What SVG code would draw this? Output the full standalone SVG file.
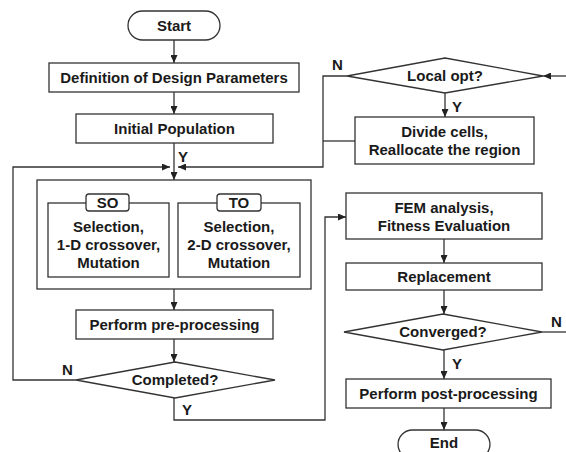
<svg xmlns="http://www.w3.org/2000/svg" width="566" height="452" viewBox="0 0 566 452">
<defs>
<marker id="ah" markerUnits="userSpaceOnUse" markerWidth="8" markerHeight="7" refX="8" refY="3.5" orient="auto">
<path d="M0,0 L8,3.5 L0,7 z" fill="#222"/>
</marker>
<style>
.n{fill:#fff;stroke:#333;stroke-width:1.3}
.t{font-family:"Liberation Sans",Arial,sans-serif;font-weight:bold;font-size:15px;fill:#1a1a1a;text-anchor:middle}
.l{font-family:"Liberation Sans",Arial,sans-serif;font-weight:bold;font-size:15px;fill:#1a1a1a}
.c{fill:none;stroke:#333;stroke-width:1.3}
.a{fill:none;stroke:#333;stroke-width:1.3;marker-end:url(#ah)}
</style>
</defs>
<rect width="566" height="452" fill="#fff"/>
<g id="connectors">
<line class="a" x1="174" y1="40" x2="174" y2="63"/>
<line class="a" x1="174" y1="92" x2="174" y2="114"/>
<line class="a" x1="174" y1="143" x2="174" y2="180"/>
<polyline class="a" points="76,380 13,380 13,167 170,167"/>
<polyline class="a" points="347,76 323,76 323,167 178,167"/>
<line class="c" x1="355" y1="141" x2="323" y2="141"/>
<line class="a" x1="566" y1="76" x2="543" y2="76"/>
<line class="a" x1="445" y1="93" x2="445" y2="117"/>
<line class="a" x1="174" y1="289" x2="174" y2="310"/>
<line class="a" x1="174" y1="339" x2="174" y2="362"/>
<polyline class="a" points="174,398 174,420 325,420 325,217 346,217"/>
<line class="a" x1="444" y1="239" x2="444" y2="263"/>
<line class="a" x1="444" y1="290" x2="444" y2="314"/>
<line class="c" x1="542" y1="332" x2="566" y2="332"/>
<line class="a" x1="444" y1="350" x2="444" y2="379"/>
<line class="a" x1="444" y1="408" x2="444" y2="430"/>
<text class="l" x="178" y="162">Y</text>
<text class="l" x="332" y="70">N</text>
<text class="l" x="452" y="112">Y</text>
<text class="l" x="62" y="375">N</text>
<text class="l" x="182" y="415">Y</text>
<text class="l" x="551" y="327">N</text>
<text class="l" x="452" y="369">Y</text>
</g>
<g id="start">
<rect class="n" x="128" y="11" width="92" height="29" rx="14.5"/>
<text class="t" x="174" y="31">Start</text>
</g>
<g id="definition">
<rect class="n" x="49" y="63" width="250" height="29"/>
<text class="t" x="174" y="83">Definition of Design Parameters</text>
</g>
<g id="initial">
<rect class="n" x="76" y="114" width="197" height="29"/>
<text class="t" x="174.5" y="134">Initial Population</text>
</g>
<g id="container">
<rect class="n" x="37" y="180" width="274" height="109"/>
</g>
<g id="so">
<rect class="n" x="48" y="203" width="121" height="74"/>
<rect class="n" x="86" y="194" width="43" height="17" rx="3"/>
<text class="t" x="107.5" y="208">SO</text>
<text class="t" x="108.5" y="232">Selection,</text>
<text class="t" x="108.5" y="250">1-D crossover,</text>
<text class="t" x="108.5" y="268">Mutation</text>
</g>
<g id="to">
<rect class="n" x="178" y="203" width="122" height="74"/>
<rect class="n" x="217" y="194" width="44" height="17" rx="3"/>
<text class="t" x="239" y="208">TO</text>
<text class="t" x="239" y="232">Selection,</text>
<text class="t" x="239" y="250">2-D crossover,</text>
<text class="t" x="239" y="268">Mutation</text>
</g>
<g id="preprocessing">
<rect class="n" x="76" y="310" width="197" height="29"/>
<text class="t" x="174.5" y="330">Perform pre-processing</text>
</g>
<g id="completed">
<polygon class="n" points="175,362 275,380 175,398 76,380"/>
<text class="t" x="175" y="385">Completed?</text>
</g>
<g id="localopt">
<polygon class="n" points="445,58 543,76 445,93 347,76"/>
<text class="t" x="445" y="81">Local opt?</text>
</g>
<g id="divide">
<rect class="n" x="355" y="117" width="179" height="47"/>
<text class="t" x="444.5" y="137">Divide cells,</text>
<text class="t" x="444.5" y="155">Reallocate the region</text>
</g>
<g id="fem">
<rect class="n" x="346" y="193" width="196" height="46"/>
<text class="t" x="444" y="213">FEM analysis,</text>
<text class="t" x="444" y="231">Fitness Evaluation</text>
</g>
<g id="replacement">
<rect class="n" x="346" y="263" width="196" height="27"/>
<text class="t" x="444" y="282">Replacement</text>
</g>
<g id="converged">
<polygon class="n" points="443,314 542,332 443,350 344,332"/>
<text class="t" x="443" y="337">Converged?</text>
</g>
<g id="postprocessing">
<rect class="n" x="346" y="379" width="205" height="29"/>
<text class="t" x="448.5" y="399">Perform post-processing</text>
</g>
<g id="end">
<rect class="n" x="398" y="430" width="92" height="29" rx="14.5"/>
<text class="t" x="444" y="448">End</text>
</g>
</svg>
